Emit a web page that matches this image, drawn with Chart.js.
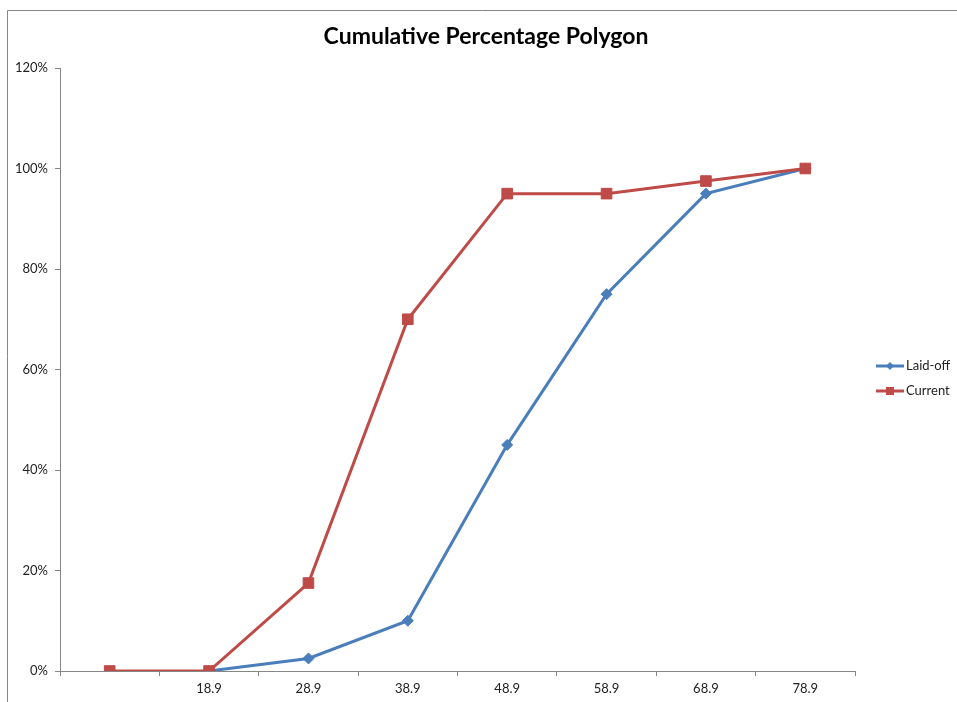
<!DOCTYPE html>
<html>
<head>
<meta charset="utf-8">
<script src="https://cdn.jsdelivr.net/npm/chart.js@4/dist/chart.umd.min.js"></script>
<style>
  body { margin: 0; background: #fff; }
  canvas { display: block; }
</style>
</head>
<body>
<canvas id="polygon" width="957" height="702"></canvas>
<script>
const categories = ['', '18.9', '28.9', '38.9', '48.9', '58.9', '68.9', '78.9'];
const laidOff = [null, 0, 2.5, 10, 45, 75, 95, 100];
const current = [0, 0, 17.5, 70, 95, 95, 97.5, 100];

const blue = '#4A7EBB';
const red = '#BE4B48';
const axisGray = '#868686';

// outer frame (only top and left edges show in the reference)
const framePlugin = {
    id: 'frame',
    beforeDraw(chart) {
        const ctx = chart.ctx;
        ctx.save();
        ctx.strokeStyle = axisGray;
        ctx.lineWidth = 1;
        ctx.beginPath();
        ctx.moveTo(7.5, chart.height);
        ctx.lineTo(7.5, 10.5);
        ctx.lineTo(chart.width, 10.5);
        ctx.stroke();
        ctx.restore();
    }
};

// legend with line + marker, like excel
const sideLegend = {
    id: 'sideLegend',
    afterDraw(chart) {
        const ctx = chart.ctx;
        const x0 = 876;
        let y = 366;
        ctx.save();
        chart.data.datasets.forEach(function (ds) {
            ctx.strokeStyle = ds.borderColor;
            ctx.lineWidth = 3;
            ctx.beginPath();
            ctx.moveTo(x0, y);
            ctx.lineTo(x0 + 28, y);
            ctx.stroke();
            ctx.fillStyle = ds.borderColor;
            ctx.beginPath();
            if (ds.pointStyle === 'rect') {
                ctx.rect(x0 + 10, y - 4, 8, 8);
            } else {
                ctx.moveTo(x0 + 14, y - 4);
                ctx.lineTo(x0 + 18, y);
                ctx.lineTo(x0 + 14, y + 4);
                ctx.lineTo(x0 + 10, y);
                ctx.closePath();
            }
            ctx.fill();
            ctx.fillStyle = '#222';
            ctx.font = '13px Lato';
            ctx.textBaseline = 'middle';
            ctx.fillText(ds.label, x0 + 30, y);
            y += 25;
        });
        ctx.restore();
    }
};

let config = {
    type: 'line',
    data: {
        labels: categories,
        datasets: [{
            label: 'Laid-off',
            data: laidOff,
            borderColor: blue,
            backgroundColor: blue,
            borderWidth: 3,
            pointStyle: 'rectRot',
            pointRadius: 5.5,
            pointBorderWidth: 1,
            tension: 0,
            order: 2
        }, {
            label: 'Current',
            data: current,
            borderColor: red,
            backgroundColor: red,
            borderWidth: 3,
            pointStyle: 'rect',
            pointRadius: 7.5,
            pointBorderWidth: 1,
            tension: 0,
            order: 1
        }]
    },
    options: {
        responsive: false,
        animation: false,
        devicePixelRatio: 1,
        layout: {
            padding: { left: 15, right: 0, top: 0, bottom: 0 }
        },
        plugins: {
            legend: { display: false },
            tooltip: { enabled: false },
            title: {
                display: true,
                text: 'Cumulative Percentage Polygon',
                color: '#000',
                font: { family: 'Lato', size: 23, weight: 'bold' },
                padding: { top: 23, bottom: 17.4 }
            }
        },
        scales: {
            x: {
                offset: true,
                grid: {
                    offset: true,
                    drawOnChartArea: false,
                    drawTicks: true,
                    tickLength: 5,
                    color: axisGray
                },
                border: { color: axisGray },
                ticks: {
                    color: '#222',
                    font: { family: 'Lato', size: 13 },
                    padding: 5,
                    maxRotation: 0,
                    autoSkip: false
                },
                afterFit(scale) { scale.height = 31; }
            },
            y: {
                min: 0,
                max: 120,
                grid: {
                    drawOnChartArea: false,
                    drawTicks: true,
                    tickLength: 5,
                    color: axisGray
                },
                border: { color: axisGray },
                ticks: {
                    stepSize: 20,
                    color: '#222',
                    font: { family: 'Lato', size: 13 },
                    padding: 7,
                    callback: function (v) { return v + '%'; }
                },
                afterFit(scale) { scale.width = 45; }
            },
            // empty box on the right that leaves room for the legend
            side: {
                type: 'linear',
                position: 'right',
                grid: { display: false },
                border: { display: false },
                ticks: { display: false },
                afterFit(scale) { scale.width = 102; }
            }
        }
    },
    plugins: [framePlugin, sideLegend]
};

new Chart(document.getElementById('polygon'), config);
</script>
</body>
</html>
